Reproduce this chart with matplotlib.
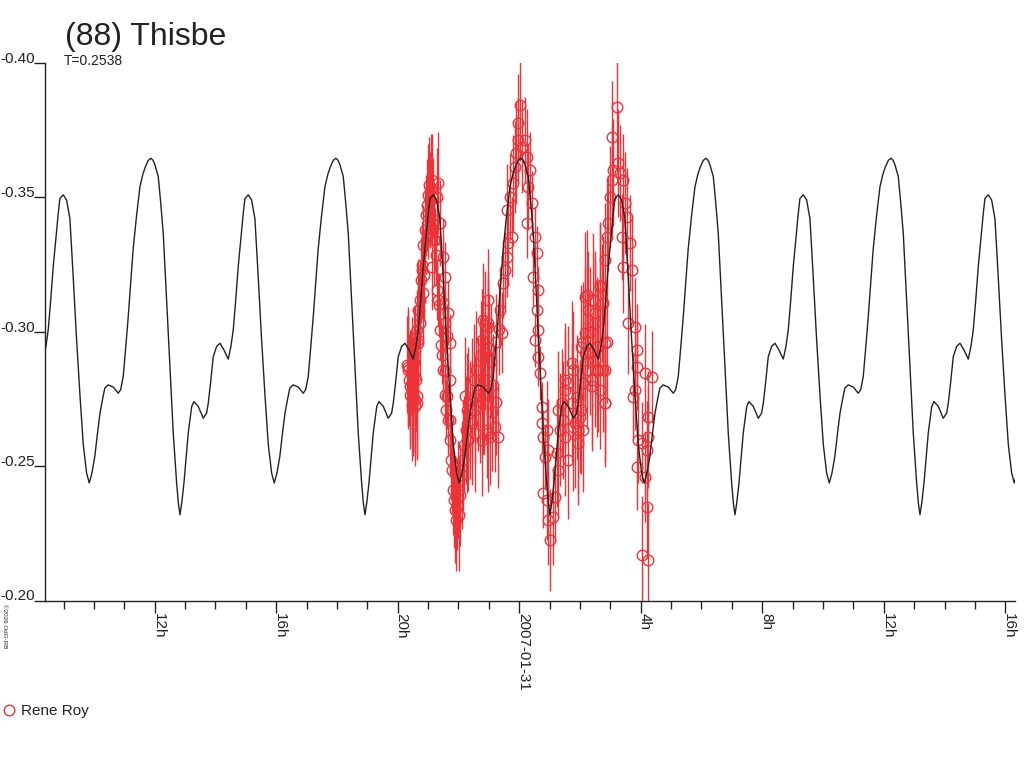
import numpy as np
import matplotlib
matplotlib.use("Agg")
import matplotlib.pyplot as plt
from matplotlib.lines import Line2D

plt.rcParams['font.family'] = ['Liberation Sans', 'DejaVu Sans']

# ---------------- data ----------------
title = "(88) Thisbe"
subtitle = "T=0.2538"
observer = "Rene Roy"
credit = "\u00a92026 OdG-RB"

# model lightcurve: one rotation (hours after a secondary maximum)
period_h = 6.09
epoch_h = -15.01   # hours relative to 2007-01-31 00:00 UT
model_phase_h = [0.00, 0.11, 0.22, 0.33, 0.44, 0.55, 0.66, 0.77, 0.856, 0.945,
                 1.04, 1.12, 1.21, 1.30, 1.37, 1.48, 1.646, 1.81, 1.89, 1.975,
                 2.06, 2.14, 2.22, 2.30, 2.41, 2.525, 2.62, 2.70, 2.80, 2.887,
                 2.96, 3.02, 3.128, 3.21, 3.292, 3.404, 3.513, 3.621, 3.733, 3.79,
                 3.842, 3.90, 3.974, 4.05, 4.115, 4.23, 4.303, 4.445, 4.609, 4.72,
                 4.774, 4.85, 4.938, 5.05, 5.159, 5.29, 5.432, 5.52, 5.597, 5.68,
                 5.761, 5.85, 5.926, 5.98]
model_mag = [-0.3509, -0.3490, -0.3420, -0.3200, -0.2970, -0.2765, -0.2580, -0.2474, -0.2437, -0.2474,
             -0.2536, -0.2615, -0.2697, -0.2752, -0.2790, -0.2802, -0.2794, -0.2771, -0.2784, -0.2833,
             -0.2945, -0.3056, -0.3180, -0.3304, -0.3428, -0.3539, -0.3585, -0.3612, -0.3637, -0.3645,
             -0.3637, -0.3620, -0.3577, -0.3478, -0.3366, -0.3118, -0.2870, -0.2623, -0.2437, -0.2362,
             -0.2319, -0.2362, -0.2437, -0.2535, -0.2623, -0.2722, -0.2740, -0.2722, -0.2678, -0.2697,
             -0.2734, -0.2810, -0.2907, -0.2945, -0.2957, -0.2932, -0.2898, -0.2945, -0.3007, -0.3120,
             -0.3242, -0.3350, -0.3440, -0.3495]

# observations (hours relative to 2007-01-31 00:00 UT, relative magnitude, error)
obs_t_a = [-3.70, -3.63, -3.60, -3.57, -3.53, -3.50, -3.47, -3.43, -3.43, -3.40,
           -3.37, -3.34, -3.30, -3.27, -3.24, -3.20, -3.17, -3.14, -3.11, -3.07,
           -3.04, -3.01, -2.97, -2.94, -2.91, -2.87, -2.84, -2.81, -2.77, -2.74,
           -2.71, -2.68, -2.64, -2.61, -2.58, -2.55, -2.51, -2.45, -2.41, -2.35,
           -2.28, -2.25, -2.22, -2.18, -2.15, -2.12, -2.08, -2.05, -2.02, -1.99,
           -1.95, -1.89, -1.85, -1.82, -1.75, -1.72, -1.69, -1.62, -1.56, -1.49,
           -1.46, -1.42, -1.36, -1.29, -1.26, -1.23, -1.19, -1.16, -1.13, -1.06, -1.03]
obs_m_a = [-0.2877, -0.2820, -0.2765, -0.2850, -0.2728, -0.2784, -0.2888, -0.2932, -0.2747, -0.2820,
           -0.3006, -0.2970, -0.3081, -0.3118, -0.3192, -0.3248, -0.3322, -0.3211, -0.3378, -0.3433,
           -0.3471, -0.3508, -0.3545, -0.3489, -0.3534, -0.3564, -0.3497, -0.3415, -0.3341, -0.3285,
           -0.3155, -0.3118, -0.3099, -0.3006, -0.2951, -0.2914, -0.2858, -0.2765, -0.2709, -0.2672,
           -0.2598, -0.2523, -0.2486, -0.2412, -0.2375, -0.2338, -0.2301, -0.2356, -0.2412, -0.2319,
           -0.2393, -0.2467, -0.2523, -0.2579, -0.2635, -0.2709, -0.2598, -0.2672, -0.2746, -0.2820,
           -0.2709, -0.2858, -0.2765, -0.2820, -0.2914, -0.2970, -0.3044, -0.2765, -0.3025, -0.2635, -0.3118]
obs_e_a = [0.018, 0.017, 0.020, 0.016, 0.021, 0.019, 0.018, 0.016, 0.020, 0.019,
           0.015, 0.017, 0.014, 0.015, 0.016, 0.014, 0.015, 0.017, 0.016, 0.015,
           0.017, 0.019, 0.018, 0.016, 0.020, 0.017, 0.015, 0.013, 0.012, 0.011,
           0.011, 0.010, 0.012, 0.011, 0.010, 0.011, 0.012, 0.010, 0.011, 0.013,
           0.014, 0.015, 0.016, 0.017, 0.018, 0.020, 0.019, 0.017, 0.018, 0.021,
           0.019, 0.020, 0.019, 0.018, 0.020, 0.021, 0.019, 0.022, 0.023, 0.021,
           0.020, 0.022, 0.021, 0.023, 0.020, 0.019, 0.021, 0.022, 0.020, 0.018, 0.019]

obs_t_b = [-1.02, -0.96, -0.80, -0.70, -0.64, -0.58, -0.54, -0.47, -0.41, -0.37,
           -0.25, -0.41, -0.31, -0.21, -0.14, -0.09, -0.03, -0.03, 0.02, 0.08,
           0.19, 0.24, 0.35, 0.30, 0.41, 0.24, 0.52, 0.57, 0.46, 0.63,
           0.57, 0.63, 0.52, 0.63, 0.68, 0.74, 0.74, 0.79, 0.85, 0.79,
           0.90, 0.95, 1.01, 1.12, 1.18, 1.28, 1.23, 1.34, 1.40, 1.50,
           1.61, 1.73, 1.44]
obs_m_b = [-0.3032, -0.2609, -0.2647, -0.2609, -0.3081, -0.2996, -0.3181, -0.3229, -0.3278, -0.3330,
           -0.3352, -0.3453, -0.3501, -0.3553, -0.3613, -0.3665, -0.3713, -0.3777, -0.3843, -0.3687,
           -0.3713, -0.3650, -0.3601, -0.3538, -0.3479, -0.3404, -0.3352, -0.3293, -0.3203, -0.3155,
           -0.3081, -0.3007, -0.2970, -0.2907, -0.2847, -0.2721, -0.2661, -0.2609, -0.2535, -0.2401,
           -0.2375, -0.2301, -0.2226, -0.2312, -0.2386, -0.2486, -0.2549, -0.2635, -0.2735, -0.2784,
           -0.2810, -0.2884, -0.2672]
obs_e_b = [0.016, 0.018, 0.017, 0.019, 0.014, 0.015, 0.013, 0.014, 0.015, 0.016,
           0.015, 0.017, 0.016, 0.018, 0.017, 0.019, 0.016, 0.018, 0.021, 0.017,
           0.016, 0.018, 0.014, 0.016, 0.012, 0.013, 0.011, 0.010, 0.011, 0.009,
           0.010, 0.009, 0.010, 0.011, 0.010, 0.009, 0.011, 0.010, 0.012, 0.013,
           0.015, 0.017, 0.019, 0.018, 0.017, 0.018, 0.020, 0.021, 0.020, 0.022,
           0.021, 0.023, 0.022]

obs_t_c = [1.78, 1.89, 2.00, 1.94, 2.05, 2.16, 2.16, 2.27, 2.33, 2.44,
           2.49, 2.55, 2.66, 2.71, 2.77, 2.82, 2.82, 2.82, 2.88, 2.93,
           2.99, 3.04, 3.09, 3.04, 3.21, 3.26, 3.32, 3.42, 3.48, 3.54,
           3.37, 3.42, 3.64, 3.70, 3.59, 3.81, 3.87, 3.87, 3.81, 3.75,
           4.14, 4.36, 3.92, 4.03, 4.25, 4.25, 4.19, 3.87, 4.14, 4.19,
           4.03, 4.25]
obs_m_c = [-0.2858, -0.2758, -0.2684, -0.2635, -0.2944, -0.2996, -0.3129, -0.3081, -0.2921, -0.3118,
           -0.3033, -0.2944, -0.3167, -0.3107, -0.2858, -0.2735, -0.2958, -0.3267, -0.3352, -0.3404,
           -0.3501, -0.3564, -0.3601, -0.3724, -0.3836, -0.3627, -0.3590, -0.3564, -0.3479, -0.3427,
           -0.3352, -0.3241, -0.3330, -0.3229, -0.3033, -0.3018, -0.2933, -0.2870, -0.2784, -0.2758,
           -0.2847, -0.2832, -0.2598, -0.2587, -0.2684, -0.2609, -0.2561, -0.2498, -0.2461, -0.2349,
           -0.2170, -0.2151]
obs_e_c = [0.022, 0.023, 0.021, 0.024, 0.023, 0.025, 0.024, 0.022, 0.023, 0.025,
           0.024, 0.026, 0.024, 0.022, 0.023, 0.024, 0.020, 0.021, 0.020, 0.018,
           0.019, 0.020, 0.019, 0.021, 0.025, 0.020, 0.018, 0.017, 0.019, 0.018,
           0.016, 0.017, 0.018, 0.020, 0.019, 0.018, 0.017, 0.016, 0.015, 0.016,
           0.018, 0.017, 0.016, 0.015, 0.017, 0.019, 0.018, 0.016, 0.017, 0.019,
           0.022, 0.021]

obs_t_d = [-1.79, -1.68, -1.57, -1.73, -1.46, -1.29, -1.19, -1.07, -1.13, -1.02, -1.02, -1.24,
           -3.65, -3.60, -3.49, -3.38, -3.43, -3.54,
           1.73, 1.83, 2.11, 2.22, 2.38, 2.60, 2.49, 2.66]
obs_m_d = [-0.2759, -0.2734, -0.2660, -0.2598, -0.2623, -0.2722, -0.2771, -0.2821, -0.2920, -0.3019, -0.2623, -0.2598,
           -0.2870, -0.2796, -0.2746, -0.2759, -0.2722, -0.2846,
           -0.2734, -0.2660, -0.2809, -0.2858, -0.2796, -0.2858, -0.2895, -0.2784]
obs_e_d = [0.022, 0.021, 0.023, 0.020, 0.022, 0.021, 0.023, 0.022, 0.021, 0.020, 0.022, 0.021,
           0.022, 0.021, 0.020, 0.023, 0.022, 0.021,
           0.022, 0.024, 0.023, 0.022, 0.024, 0.023, 0.025, 0.022]

obs_t_e = [2.22, 2.66, 2.77, 2.11, 2.33, 2.88, 2.55, 2.38, 2.82, 2.82,
           1.50, 1.28, 2.05, 2.11, 1.61, 0.90, 0.95, 1.94, 1.78, 2.16,
           2.49, 2.60, 1.50,
           -2.94, -2.99, -2.67, -2.72, -2.61, -2.82, -2.50, -2.88, -3.21, -2.45,
           -3.16, -2.50, -2.34, -3.32, -2.45, -2.39, -2.28, -3.27, -3.32, -3.65,
           -3.43, -2.45, -2.28, -3.49, -3.38, -2.39, -2.28,
           -1.00, -0.92, -0.85, -0.78, -0.90, -0.75, -0.68]
obs_m_e = [-0.3137, -0.3174, -0.3106, -0.2963, -0.3000, -0.2963, -0.2858, -0.2821, -0.2734, -0.2858,
           -0.2821, -0.2709, -0.2709, -0.2635, -0.2524, -0.2635, -0.2561, -0.2586, -0.2647, -0.2920,
           -0.3069, -0.2945, -0.2610,
           -0.3490, -0.3441, -0.3552, -0.3502, -0.3403, -0.3341, -0.3279, -0.3242, -0.3230, -0.3205,
           -0.3143, -0.3106, -0.3069, -0.3081, -0.3032, -0.2982, -0.2957, -0.3032, -0.2957, -0.2858,
           -0.2833, -0.2852, -0.2821, -0.2759, -0.2734, -0.2759, -0.2672,
           -0.2940, -0.2890, -0.2800, -0.2740, -0.2700, -0.2960, -0.3010]
obs_e_e = [0.024, 0.023, 0.025, 0.022, 0.024, 0.023, 0.025, 0.024, 0.022, 0.023,
           0.021, 0.022, 0.024, 0.023, 0.022, 0.018, 0.019, 0.023, 0.024, 0.022,
           0.023, 0.024, 0.022,
           0.018, 0.017, 0.019, 0.018, 0.016, 0.017, 0.014, 0.016, 0.018, 0.013,
           0.017, 0.013, 0.012, 0.019, 0.012, 0.012, 0.011, 0.020, 0.021, 0.022,
           0.021, 0.012, 0.012, 0.022, 0.021, 0.012, 0.013,
           0.020, 0.021, 0.019, 0.020, 0.022, 0.018, 0.017]

x_limits_h = [-15.61, 16.32]
x_major_ticks = [-12, -8, -4, 0, 4, 8, 12, 16]
x_major_labels = ["12h", "16h", "20h", "2007-01-31", "4h", "8h", "12h", "16h"]
x_minor_ticks = list(range(-15, 17))
y_ticks = [-0.40, -0.35, -0.30, -0.25, -0.20]
y_labels = ["-0.40", "-0.35", "-0.30", "-0.25", "-0.20"]

# ---------------- figure ----------------
RED = '#ee3338'
INK = '#222222'
W, H = 1024, 768
fig = plt.figure(figsize=(W / 100, H / 100), dpi=100)
ax = fig.add_axes([45 / W, 1 - 600.5 / H, 970 / W, (600.5 - 62.8) / H])

# model curve, repeated over each rotation
ph = np.asarray(model_phase_h)
cm = np.asarray(model_mag)
ct, cmag = [], []
for k in range(-1, 7):
    ct.append(epoch_h + k * period_h + ph)
    cmag.append(cm)
ct = np.concatenate(ct)
cmag = np.concatenate(cmag)
ax.plot(ct, cmag, color=INK, lw=1.0, zorder=4, solid_joinstyle='round')

obs_t = obs_t_a + obs_t_b + obs_t_c + obs_t_d + obs_t_e
obs_m = obs_m_a + obs_m_b + obs_m_c + obs_m_d + obs_m_e
obs_e = obs_e_a + obs_e_b + obs_e_c + obs_e_d + obs_e_e
ax.errorbar(obs_t, obs_m, yerr=obs_e, fmt='o', ms=7.6, mfc='none', mec=RED, mew=1.0,
            ecolor=RED, elinewidth=1.0, capsize=0, zorder=3)

ax.set_xlim(*x_limits_h)
ax.set_ylim(-0.20, -0.40)

for s in ['top', 'right']:
    ax.spines[s].set_visible(False)
for s in ['left', 'bottom']:
    ax.spines[s].set_color(INK)
    ax.spines[s].set_linewidth(1.0)

ax.set_xticks(x_major_ticks)
ax.set_xticklabels(x_major_labels, rotation=-90, ha='left', va='baseline',
                   rotation_mode='anchor', fontsize=11, color=INK)
ax.set_xticks(x_minor_ticks, minor=True)
ax.tick_params(axis='x', which='major', direction='out', length=8.6, width=1.0,
               color=INK, pad=0.5)
ax.tick_params(axis='x', which='minor', direction='out', length=5.8, width=1.0, color=INK)

ax.set_yticks(y_ticks)
ax.set_yticklabels(y_labels, fontsize=11, color=INK, va='baseline')
ax.tick_params(axis='y', which='major', direction='out', length=8.0, width=1.0,
               color=INK, pad=-0.5)

# titles
fig.text(65 / W, 1 - 45.5 / H, title, fontsize=23, color=INK, ha='left', va='baseline')
fig.text(63.5 / W, 1 - 65 / H, subtitle, fontsize=10, color=INK, ha='left', va='baseline')
fig.text(4.5 / W, 1 - 604 / H, credit, fontsize=4.5, color=INK, rotation=-90,
         ha='center', va='top')

# legend
proxy = Line2D([], [], ls='none', marker='o', ms=7.6, mfc='none', mec=RED, mew=1.0)
fig.legend([proxy], [observer], loc='center left', bbox_to_anchor=(2.0 / W, 1 - 711.5 / H),
           bbox_transform=fig.transFigure, frameon=False, fontsize=11,
           handlelength=0.9, handletextpad=0.35, borderaxespad=0.0, borderpad=0.0,
           labelcolor=INK)

fig.savefig('out.png', dpi=100)
